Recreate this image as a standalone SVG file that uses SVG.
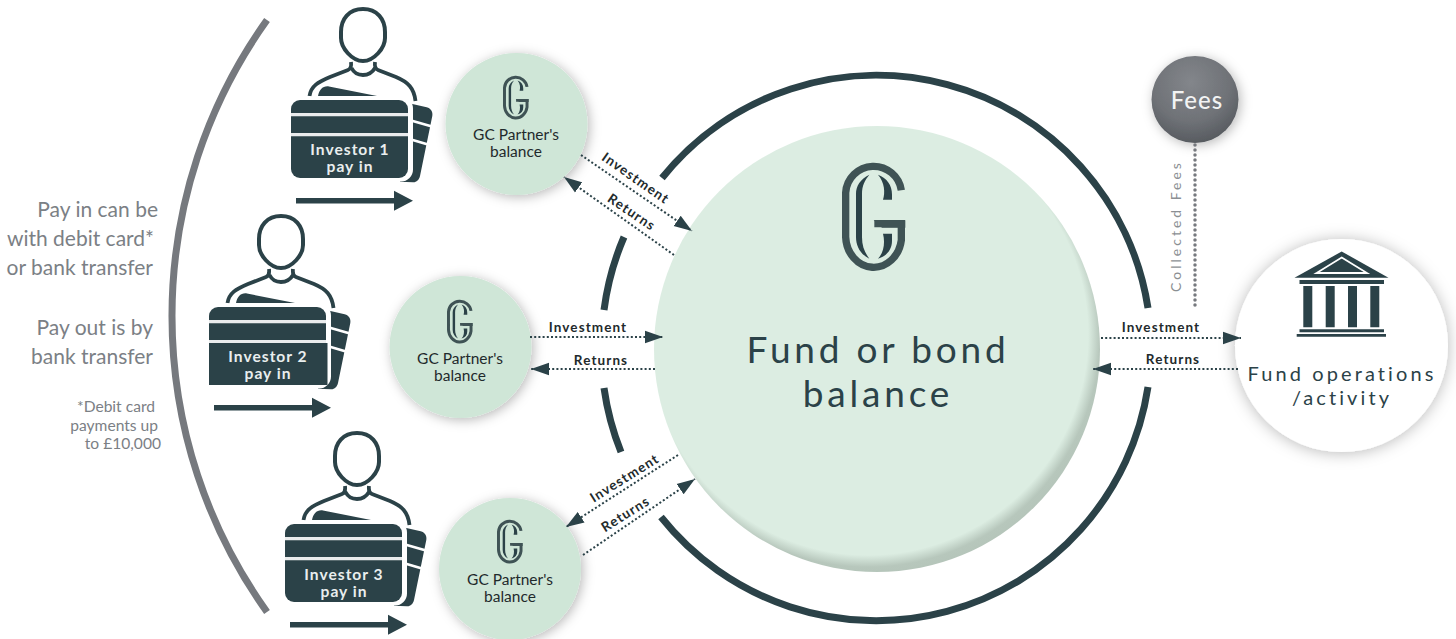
<svg xmlns="http://www.w3.org/2000/svg" width="1456" height="639" viewBox="0 0 1456 639">
<style>
text{font-family:Lato,"Open Sans","Liberation Sans",sans-serif}
.dark{fill:#2b4248}
.ring{fill:none;stroke:#2b4248;stroke-width:7}
.flow{fill:none;stroke:#2b4248;stroke-width:2;stroke-dasharray:2 2.2}
.lbl{font-size:13.500px;font-weight:700;fill:#222a2c;letter-spacing:1.100px;text-anchor:middle}
.note{fill:#7b8085;text-anchor:end}
.n20{font-size:21px}
.n15{font-size:15.600px}
.inv{font-size:15.600px;font-weight:700;fill:#e9eeee;letter-spacing:1px;text-anchor:middle}
.gc{font-size:15.500px;fill:#1f2a2c;text-anchor:middle}
.small{fill:#cfe6d7;filter:url(#soft)}
</style>
<defs>
<filter id="soft" x="-30%" y="-30%" width="160%" height="160%"><feDropShadow dx="2" dy="2" stdDeviation="6" flood-color="#000" flood-opacity=".28"/></filter>
<filter id="softw" x="-30%" y="-30%" width="160%" height="160%"><feDropShadow dx="0" dy="1" stdDeviation="8" flood-color="#000" flood-opacity=".28"/></filter>
<radialGradient id="big" gradientUnits="userSpaceOnUse" cx="868" cy="335" r="240"><stop offset=".917" stop-color="#dcede2"/><stop offset=".967" stop-color="#b7c7bc"/><stop offset="1" stop-color="#b5c5ba"/></radialGradient>
<radialGradient id="fees" cx=".45" cy=".3" r=".75"><stop offset="0" stop-color="#83868b"/><stop offset=".6" stop-color="#6f7277"/><stop offset="1" stop-color="#53575c"/></radialGradient>
<marker id="ah" markerUnits="userSpaceOnUse" markerWidth="19" markerHeight="14" refX="18" refY="7" orient="auto"><path d="M0,.7 L18,7 L0,13.3Z" fill="#2b4248"/></marker>
<g id="logo">
<path d="M178,88 A84,84 0 0 0 11,95 L11,228 A84,95 0 0 0 178,238 L178,188 L97,188" fill="none" stroke="#3f5355" stroke-width="22"/>
<path d="M95,178 L190,178 L190,200 L120,200Z" fill="#3f5355"/>
<path d="M82,41 C55,55 42,75 42,98 L42,228 C42,255 55,280 82,293 C68,275 60,255 60,228 L60,98 C60,75 68,58 82,41Z" fill="#2b4248"/>
<path d="M108,41 C135,52 150,72 150,100 L150,116 L123,116 C130,95 128,65 108,41Z" fill="#2b4248"/>
<path d="M123,218 L150,218 L150,240 C150,265 135,285 108,293 C125,275 130,245 123,218Z" fill="#2b4248"/>
</g>
<g id="person">
<path d="M363,9 C377,9 385,19 385,32 L385,38 C385,48 374,61 363,61 C352,61 341,48 341,38 L341,32 C341,19 349,9 363,9Z" fill="none" stroke="#2b4248" stroke-width="4"/>
<path d="M309.500,96 C311,86 318,82 330,77 L348,70 C351,69 351.500,66 351,62 M351.500,68 C354,73 358,75 363,75 C368,75 372,73 375,68 M375,62 C374.500,66 375,69 378,70 L396,77 C408,82 414,88 415.500,101" fill="none" stroke="#2b4248" stroke-width="3.800"/>
<path d="M318,96 C319,90 323,85.500 329,86.500 L377,96Z" class="dark"/>
<path d="M408,103 L426.700,107.300 C431,108.500 433,112 432.300,116 L420,176 C419,180 416.500,182.500 413,182.300 L400,181.700Z" class="dark"/>
<path d="M411,120.500 L432,126.500 M411,139.500 L428,144.500" stroke="#fff" stroke-width="2.800"/>
<rect x="287.500" y="96.500" width="125.500" height="85" rx="12" fill="#fff"/>
<rect x="291" y="100" width="117" height="78" rx="9" class="dark"/>
<path d="M291,114.700 H408 M291,134.700 H408" stroke="#fff" stroke-width="3.200" stroke-opacity=".9"/>
<path d="M296,198 H394 V190.700 L413,200.700 L394,210.700 V203.500 H296Z" class="dark"/>
</g>
</defs>
<rect width="1456" height="639" fill="#fff"/>
<path id="bracket" d="M267,20 A508.600,508.600 0 0 0 267,612" fill="none" stroke="#76797e" stroke-width="7"/>
<g id="note-text">
<text class="note n20" x="158" y="217">Pay in can be</text>
<text class="note n20" x="154" y="246">with debit card*</text>
<text class="note n20" x="153" y="275">or bank transfer</text>
<text class="note n20" x="153" y="335">Pay out is by</text>
<text class="note n20" x="153" y="364">bank transfer</text>
<text class="note n15" x="155" y="412">*Debit card</text>
<text class="note n15" x="158" y="431">payments up</text>
<text class="note n15" x="161" y="449">to £10,000</text>
</g>
<g id="fund-ring">
<path class="ring" d="M1148,308 A275,275 0 0 0 662,178"/>
<path class="ring" d="M624,237 A275,275 0 0 0 604,310"/>
<path class="ring" d="M604,388 A275,275 0 0 0 621,452"/>
<path class="ring" d="M661,517 A275,275 0 0 0 1148,387"/>
</g>
<g id="fund">
<circle cx="877" cy="349" r="223" fill="url(#big)"/>
<use href="#logo" transform="translate(842,161) scale(.3333)"/>
<text x="878" y="363" font-size="37" letter-spacing="3.800" text-anchor="middle" fill="#2b4248">Fund or bond</text>
<text x="878" y="407" font-size="37" letter-spacing="3.800" text-anchor="middle" fill="#2b4248">balance</text>
</g>
<g id="investor-1"><use href="#person"/><text class="inv"><tspan x="350" y="155">Investor 1</tspan><tspan x="350" y="172">pay in</tspan></text></g>
<g id="investor-2"><use href="#person" transform="translate(-82,207)"/><rect x="209" y="343" width="118.500" height="42" class="dark"/><text class="inv"><tspan x="268" y="362">Investor 2</tspan><tspan x="268" y="379">pay in</tspan></text></g>
<g id="investor-3"><use href="#person" transform="translate(-6,424)"/><text class="inv"><tspan x="344" y="580">Investor 3</tspan><tspan x="344" y="597">pay in</tspan></text></g>
<g id="partner-1"><circle class="small" cx="516.500" cy="124" r="71"/><use href="#logo" transform="translate(503,75) scale(.135)"/><text class="gc" x="516" y="140">GC Partner's</text><text class="gc" x="516" y="157">balance</text></g>
<g id="partner-2"><circle class="small" cx="460.500" cy="347" r="71"/><use href="#logo" transform="translate(447,299) scale(.135)"/><text class="gc" x="460" y="364">GC Partner's</text><text class="gc" x="460" y="381">balance</text></g>
<g id="partner-3"><circle class="small" cx="510" cy="569" r="71"/><use href="#logo" transform="translate(497,519) scale(.135)"/><text class="gc" x="510" y="585">GC Partner's</text><text class="gc" x="510" y="602">balance</text></g>
<g id="fees-node"><circle cx="1195" cy="99.500" r="43.500" fill="url(#fees)" filter="url(#soft)"/><text x="1197" y="109" font-size="24" font-weight="500" letter-spacing="1" text-anchor="middle" fill="#f2f3f3">Fees</text></g>
<g id="operations">
<circle cx="1341.500" cy="345.500" r="106.500" fill="#fff" filter="url(#softw)"/>
<path d="M1341.700,251.500 L1388.500,277.700 H1294.500Z" class="dark"/>
<path d="M1341.700,257.500 L1367,273 H1316.500Z" fill="none" stroke="#fff" stroke-width="1.800"/>
<path d="M1299.500,280 H1384 V284 H1299.500Z M1303.300,286 H1312.300 V327.300 H1303.300Z M1325.700,286 H1334.700 V327.300 H1325.700Z M1348,286 H1357 V327.300 H1348Z M1370.300,286 H1379.300 V327.300 H1370.300Z M1299.500,329.300 H1384 V332.300 H1299.500Z M1296.700,334 H1386 V336.700 H1296.700Z" class="dark"/>
<text x="1342" y="381" font-size="20" letter-spacing="3.100" text-anchor="middle" fill="#2b4248">Fund operations</text>
<text x="1342" y="405" font-size="20" letter-spacing="3.100" text-anchor="middle" fill="#2b4248">/activity</text>
</g>
<g id="connectors">
<path class="flow" d="M581,155 L692,231" marker-end="url(#ah)"/>
<path class="flow" d="M674,255 L564,177" marker-end="url(#ah)"/>
<path class="flow" d="M530,337 H663" marker-end="url(#ah)"/>
<path class="flow" d="M655,369 H531" marker-end="url(#ah)"/>
<path class="flow" d="M678,455 L566,527" marker-end="url(#ah)"/>
<path class="flow" d="M583,555 L695,479" marker-end="url(#ah)"/>
<path class="flow" d="M1101,338 H1241" marker-end="url(#ah)"/>
<path class="flow" d="M1238,369 H1093" marker-end="url(#ah)"/>
<path d="M1195,145 V306" fill="none" stroke="#76797e" stroke-width="3.500" stroke-linecap="round" stroke-dasharray="0 5"/>
<text class="lbl" transform="translate(633,182) rotate(35)">Investment</text>
<text class="lbl" transform="translate(629,216) rotate(34)">Returns</text>
<text class="lbl" x="588" y="332">Investment</text>
<text class="lbl" x="601" y="365">Returns</text>
<text class="lbl" transform="translate(627,482) rotate(-32)">Investment</text>
<text class="lbl" transform="translate(628,518) rotate(-32)">Returns</text>
<text class="lbl" x="1161" y="332">Investment</text>
<text class="lbl" x="1173" y="364">Returns</text>
<text transform="translate(1181,226) rotate(-90)" font-size="14" letter-spacing="3" text-anchor="middle" fill="#8b8f93">Collected Fees</text>
</g>
</svg>
